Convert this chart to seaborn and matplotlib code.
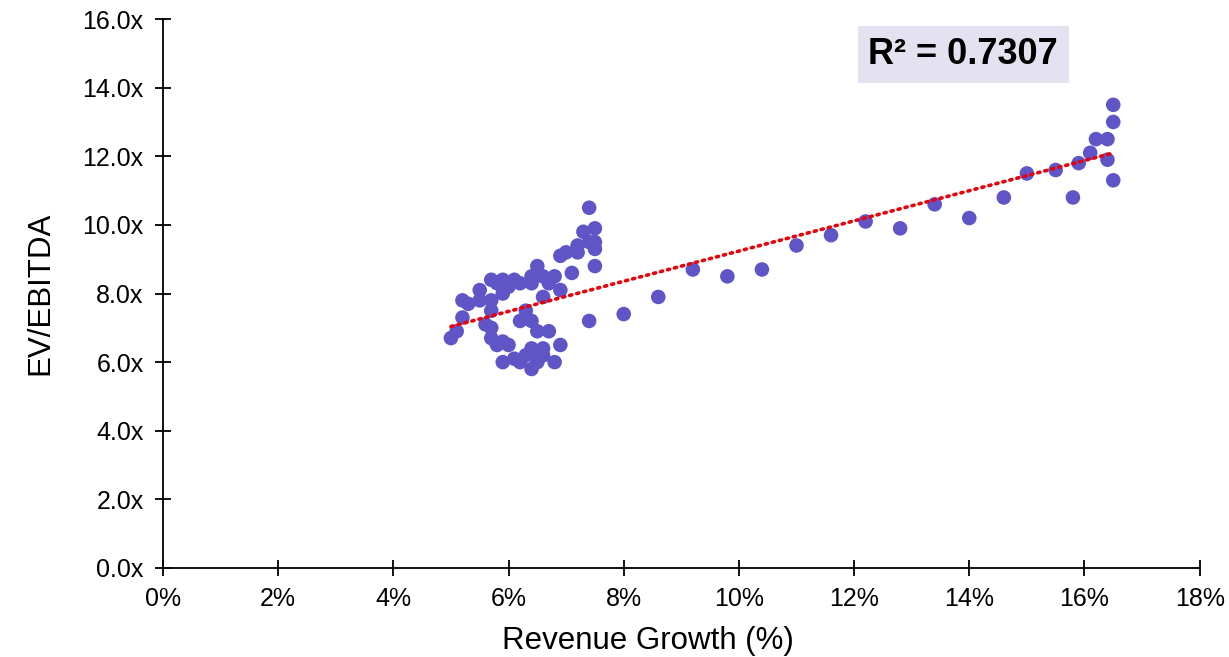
import numpy as np
import pandas as pd
import matplotlib
matplotlib.use('Agg')
import matplotlib.pyplot as plt
from matplotlib.ticker import FuncFormatter
import seaborn as sns

# revenue growth (%) and EV/EBITDA multiples
growth = [
    7.4, 7.5, 7.3, 7.5, 7.4, 7.5, 7.2, 7.2, 7.0, 6.9,
    7.5, 7.1, 6.5, 6.8, 6.7, 6.6, 6.4, 6.4, 6.2, 6.1,
    5.9, 5.7, 5.9, 6.0, 6.9, 6.6, 5.5, 5.7, 5.2, 5.3,
    5.5, 5.7, 5.2, 6.3, 6.2, 6.4, 7.4, 5.6, 5.7, 5.7,
    5.1, 5.0, 6.5, 6.7, 5.9, 5.8, 6.0, 6.9, 5.9, 6.1,
    6.2, 6.4, 6.5, 6.6, 6.3, 6.5, 6.6, 6.8, 6.4, 5.8,
    8.0, 8.6, 9.2, 9.8, 10.4, 11.0, 11.6, 12.2, 12.8, 13.4,
    14.0, 14.6, 15.0, 15.5, 15.8, 15.9, 16.1, 16.2, 16.4, 16.4,
    16.5, 16.5, 16.5,
]
ev_ebitda = [
    10.5, 9.9, 9.8, 9.5, 9.5, 9.3, 9.4, 9.2, 9.2, 9.1,
    8.8, 8.6, 8.8, 8.5, 8.3, 8.5, 8.5, 8.3, 8.3, 8.4,
    8.4, 8.4, 8.0, 8.2, 8.1, 7.9, 8.1, 7.8, 7.8, 7.7,
    7.8, 7.5, 7.3, 7.5, 7.2, 7.2, 7.2, 7.1, 7.0, 6.7,
    6.9, 6.7, 6.9, 6.9, 6.6, 6.5, 6.5, 6.5, 6.0, 6.1,
    6.0, 6.4, 6.3, 6.4, 6.2, 6.0, 6.2, 6.0, 5.8, 8.3,
    7.4, 7.9, 8.7, 8.5, 8.7, 9.4, 9.7, 10.1, 9.9, 10.6,
    10.2, 10.8, 11.5, 11.6, 10.8, 11.8, 12.1, 12.5, 12.5, 11.9,
    13.5, 13.0, 11.3,
]
r2_label = 'R² = 0.7307'

df = pd.DataFrame({'growth': growth, 'ev': ev_ebitda})

sns.set_style('ticks')
plt.rcParams['font.family'] = ['Liberation Sans', 'DejaVu Sans']

fig = plt.figure(figsize=(12.29, 6.57), dpi=100)
ax = fig.add_axes([0.1326, 0.1355, 0.8435, 0.8355])

sns.scatterplot(data=df, x='growth', y='ev', color='#5F55C6', s=110,
                edgecolor='none', ax=ax, zorder=3)

# linear trendline across the data range
slope, intercept = np.polyfit(df['growth'], df['ev'], 1)
xs = np.array([df['growth'].min(), df['growth'].max()])
ax.plot(xs, slope * xs + intercept, color='#E8000B', linestyle=(0, (0.6, 1.4)),
        linewidth=2.6, dash_capstyle='round', zorder=4)

ax.set_xlim(0, 18)
ax.set_ylim(0, 16)
ax.set_xticks(range(0, 19, 2))
ax.set_yticks(range(0, 17, 2))
ax.xaxis.set_major_formatter(FuncFormatter(lambda v, p: f'{v:.0f}%'))
ax.yaxis.set_major_formatter(FuncFormatter(lambda v, p: f'{v:.1f}x'))
ax.tick_params(direction='inout', length=12, width=1.3, labelsize=18,
               colors='black', pad=8)
for side in ['top', 'right']:
    ax.spines[side].set_visible(False)
for side in ['left', 'bottom']:
    ax.spines[side].set_linewidth(1.3)
    ax.spines[side].set_color('black')

ax.set_xlabel('Revenue Growth (%)', fontsize=22.5, color='black')
ax.set_ylabel('EV/EBITDA', fontsize=22.5, color='black')
ax.xaxis.set_label_coords(0.468, -0.105)
ax.yaxis.set_label_coords(-0.104, 0.5)

ax.text(0.772, 0.936, r2_label, transform=ax.transAxes, ha='center', va='center',
        fontsize=26, fontweight='bold', color='black',
        bbox=dict(boxstyle='square,pad=0.3', facecolor='#E4E2F1', edgecolor='none'))

fig.savefig('out.png', dpi=100)
